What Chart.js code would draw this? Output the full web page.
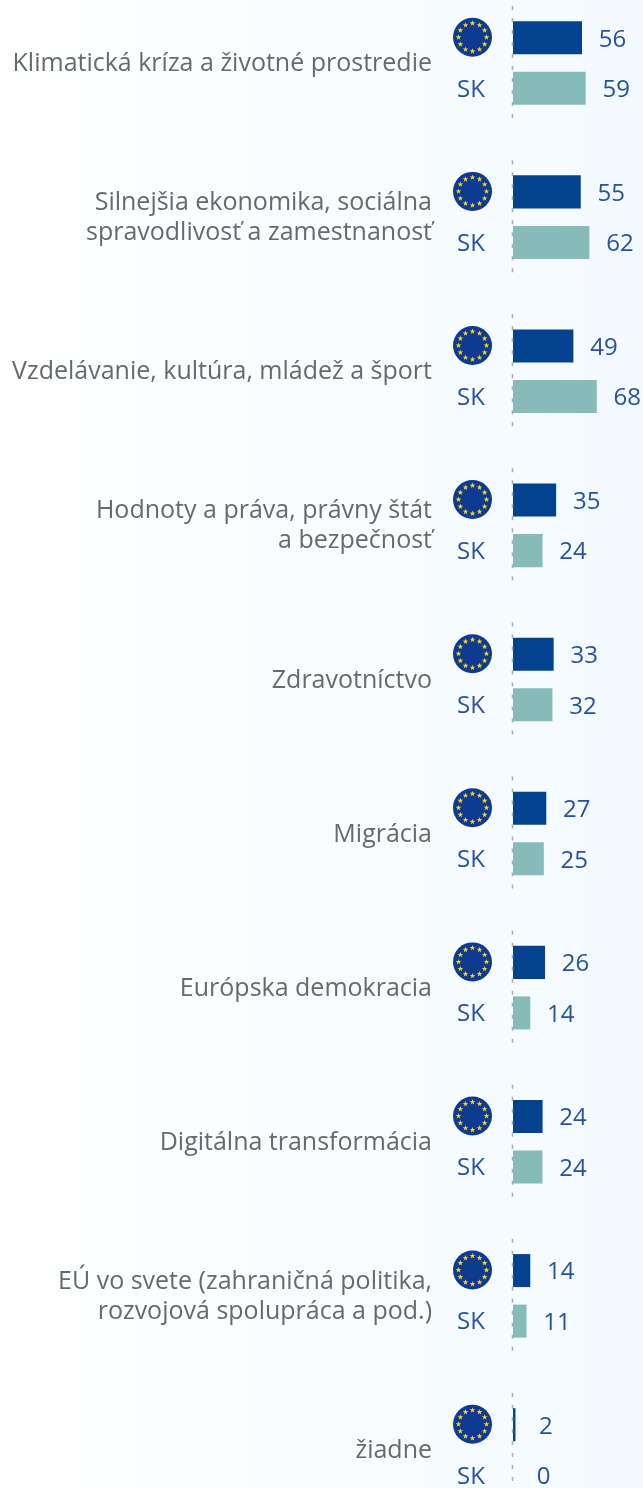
<!DOCTYPE html>
<html lang="sk">
<head>
<meta charset="utf-8">
<title>Priority</title>
<script src="https://cdn.jsdelivr.net/npm/chart.js@4"></script>
<style>
  html, body { margin:0; padding:0; width:643px; height:1488px; overflow:hidden; }
  body { background:linear-gradient(90deg, #ffffff 0%, #f3faff 100%); position:relative; }
  #chart { position:absolute; left:0; top:-14px; display:block; }
</style>
</head>
<body>
<canvas id="chart" width="643" height="1541"></canvas>
<script>
const categories = [
  ['Klimatická kríza a životné prostredie'],
  ['Silnejšia ekonomika, sociálna', 'spravodlivosť a zamestnanosť'],
  ['Vzdelávanie, kultúra, mládež a šport'],
  ['Hodnoty a práva, právny štát', 'a bezpečnosť'],
  ['Zdravotníctvo'],
  ['Migrácia'],
  ['Európska demokracia'],
  ['Digitálna transformácia'],
  ['EÚ vo svete (zahraničná politika,', 'rozvojová spolupráca a pod.)'],
  ['žiadne']
];
const euValues = [56, 55, 49, 35, 33, 27, 26, 24, 14, 2];
const skValues = [59, 62, 68, 24, 32, 25, 14, 24, 11, 0];

const BLUE = '#03428f';
const TEAL = '#86bbba';
const TEXT_BLUE = '#27539a';
const FONT = '"Open Sans", sans-serif';

// dashed zero line, one piece per category
const zeroLines = {
  id: 'zeroLines',
  afterDatasetsDraw(c) {
    const x = c.scales.x.getPixelForValue(0) - 0.5;
    const ctx = c.ctx;
    ctx.save();
    ctx.strokeStyle = '#a9adb3';
    ctx.lineWidth = 1.5;
    ctx.setLineDash([4, 8]);
    categories.forEach((_, i) => {
      const mid = c.scales.y.getPixelForValue(i);
      ctx.beginPath();
      ctx.moveTo(x, mid - 57);
      ctx.lineTo(x, mid + 57);
      ctx.stroke();
    });
    ctx.restore();
  }
};

function drawFlag(ctx, x, y) {
  ctx.fillStyle = '#0e3a8f';
  ctx.beginPath();
  ctx.arc(x, y, 19.5, 0, Math.PI * 2);
  ctx.fill();
  ctx.fillStyle = '#f5d327';
  for (let s = 0; s < 12; s++) {
    const a = s * Math.PI / 6;
    const sx = x + Math.cos(a) * 14;
    const sy = y + Math.sin(a) * 14;
    ctx.beginPath();
    for (let p = 0; p < 10; p++) {
      const r = p % 2 ? 1.2 : 3;
      const b = -Math.PI / 2 + p * Math.PI / 5;
      ctx.lineTo(sx + Math.cos(b) * r, sy + Math.sin(b) * r);
    }
    ctx.closePath();
    ctx.fill();
  }
}

// flags, SK labels and values beside the bars
const rowMarks = {
  id: 'rowMarks',
  afterDraw(c) {
    const ctx = c.ctx;
    const zero = c.scales.x.getPixelForValue(0);
    ctx.save();
    ctx.font = '24px ' + FONT;
    ctx.textAlign = 'center';
    ctx.textBaseline = 'middle';
    c.data.datasets.forEach((ds, d) => {
      c.getDatasetMeta(d).data.forEach((bar, i) => {
        if (d === 0) {
          drawFlag(ctx, zero - 40.5, bar.y - 0.5);
        } else {
          ctx.fillStyle = TEXT_BLUE;
          ctx.fillText('SK', zero - 42, bar.y + 1.5);
        }
        ctx.fillStyle = TEXT_BLUE;
        ctx.fillText(String(ds.data[i]), bar.x + 30.5, bar.y + 2);
      });
    });
    ctx.restore();
  }
};

new Chart(document.getElementById('chart'), {
  type: 'bar',
  data: {
    labels: categories,
    datasets: [
      { label: 'EÚ', data: euValues, backgroundColor: BLUE },
      { label: 'SK', data: skValues, backgroundColor: TEAL }
    ]
  },
  options: {
    indexAxis: 'y',
    responsive: false,
    animation: false,
    categoryPercentage: 0.656,
    barPercentage: 0.653,
    layout: { padding: 0 },
    plugins: { legend: { display: false }, tooltip: { enabled: false } },
    scales: {
      x: { display: false, min: 0, max: 105.5 },
      y: {
        afterFit(scale) {
          // tick padding also pads top and bottom, drop that
          scale.width = 513;
          scale.paddingTop = 0;
          scale.paddingBottom = 0;
        },
        grid: { display: false, drawTicks: false },
        border: { display: false },
        ticks: {
          autoSkip: false,
          padding: 81,
          labelOffset: 1,
          color: '#666a6e',
          font: { family: FONT, size: 25 }
        }
      }
    }
  },
  plugins: [zeroLines, rowMarks]
});
</script>
</body>
</html>
